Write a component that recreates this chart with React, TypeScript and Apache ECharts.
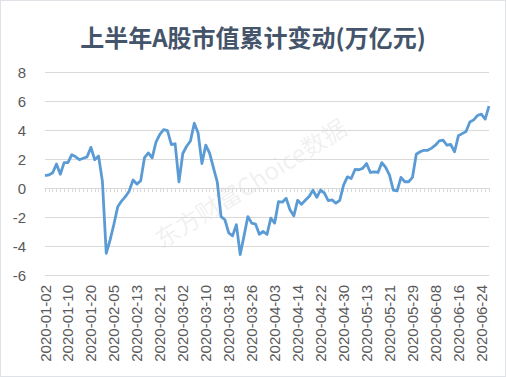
import React, { useEffect, useRef } from "react";
import * as echarts from "echarts";

const titleText = "上半年A股市值累计变动(万亿元)";
const watermark = "东方财富Choice数据";

const dates: string[] = [
  "2020-01-02","2020-01-03","2020-01-06","2020-01-07","2020-01-08","2020-01-09","2020-01-10","2020-01-13","2020-01-14","2020-01-15","2020-01-16","2020-01-17","2020-01-20","2020-01-21","2020-01-22","2020-01-23",
  "2020-02-03","2020-02-04","2020-02-05","2020-02-06","2020-02-07","2020-02-10","2020-02-11","2020-02-12","2020-02-13","2020-02-14","2020-02-17","2020-02-18","2020-02-19","2020-02-20","2020-02-21","2020-02-24","2020-02-25","2020-02-26","2020-02-27","2020-02-28",
  "2020-03-02","2020-03-03","2020-03-04","2020-03-05","2020-03-06","2020-03-09","2020-03-10","2020-03-11","2020-03-12","2020-03-13","2020-03-16","2020-03-17","2020-03-18","2020-03-19","2020-03-20","2020-03-23","2020-03-24","2020-03-25","2020-03-26","2020-03-27","2020-03-30","2020-03-31",
  "2020-04-01","2020-04-02","2020-04-03","2020-04-07","2020-04-08","2020-04-09","2020-04-10","2020-04-13","2020-04-14","2020-04-15","2020-04-16","2020-04-17","2020-04-20","2020-04-21","2020-04-22","2020-04-23","2020-04-24","2020-04-27","2020-04-28","2020-04-29","2020-04-30",
  "2020-05-06","2020-05-07","2020-05-08","2020-05-11","2020-05-12","2020-05-13","2020-05-14","2020-05-15","2020-05-18","2020-05-19","2020-05-20","2020-05-21","2020-05-22","2020-05-25","2020-05-26","2020-05-27","2020-05-28","2020-05-29",
  "2020-06-01","2020-06-02","2020-06-03","2020-06-04","2020-06-05","2020-06-08","2020-06-09","2020-06-10","2020-06-11","2020-06-12","2020-06-15","2020-06-16","2020-06-17","2020-06-18","2020-06-19","2020-06-22","2020-06-23","2020-06-24","2020-06-29","2020-06-30"
];

const janValues: number[] = [0.85, 0.9, 1.05, 1.65, 0.95, 1.75, 1.75, 2.3, 2.15, 1.95, 2.05, 2.15, 2.8, 1.95, 2.2, 0.45];
const febValues: number[] = [-4.5, -3.6, -2.5, -1.3, -0.9, -0.6, -0.2, 0.55, 0.27, 0.5, 2.1, 2.42, 2.08, 3.17, 3.7, 4.02, 3.95, 3.0, 3.05, 0.43];
const marValues: number[] = [2.38, 2.88, 3.24, 4.47, 3.79, 1.69, 2.95, 2.4, 1.4, 0.43, -1.97, -2.19, -3.1, -3.3, -2.53, -4.59, -3.3, -1.97, -2.42, -2.49, -3.19, -3.0];
const aprValues: number[] = [-3.2, -2.08, -2.42, -0.94, -0.98, -0.71, -1.5, -1.92, -0.85, -1.13, -0.85, -0.58, -0.15, -0.64, -0.14, -0.35, -0.87, -0.82, -1.05, -0.85, 0.2];
const mayValues: number[] = [0.77, 0.66, 1.28, 1.26, 1.35, 1.69, 1.07, 1.12, 1.07, 1.75, 1.42, 0.89, -0.14, -0.2, 0.73, 0.43, 0.43, 0.73];
const junValues: number[] = [2.33, 2.5, 2.6, 2.6, 2.75, 2.95, 3.25, 3.3, 2.95, 3.0, 2.5, 3.6, 3.75, 3.9, 4.55, 4.7, 5.0, 5.1, 4.75, 5.65];

const values: number[] = [...janValues, ...febValues, ...marValues, ...aprValues, ...mayValues, ...junValues];

const yMin = -6;
const yMax = 8;
const yInterval = 2;

export default function App() {
  const ref = useRef<HTMLDivElement>(null);
  useEffect(() => {
    if (!ref.current) return;
    const chart = echarts.init(ref.current, undefined, { renderer: "svg" });
    const labelFont = "'Liberation Sans', Arial, sans-serif";
    chart.setOption({
      animation: false,
      backgroundColor: "#ffffff",
      title: {
        text: titleText,
        left: "center",
        top: 18,
        textStyle: {
          fontSize: 24,
          fontWeight: "bold",
          color: "#44546a",
          fontFamily: "'Noto Sans CJK SC', sans-serif",
        },
      },
      graphic: [
        {
          type: "text",
          x: 249,
          y: 181,
          rotation: 0.555,
          silent: true,
          z: 0,
          style: {
            text: watermark,
            fontSize: 24,
            fontFamily: "'Noto Sans CJK SC', sans-serif",
            fill: "rgba(160,160,160,0.16)",
            textAlign: "center",
            textVerticalAlign: "middle",
          },
        },
      ],
      grid: { left: 44, right: 16, top: 71, bottom: 101, containLabel: false },
      xAxis: [
        {
          type: "category",
          data: dates,
          boundaryGap: false,
          position: "bottom",
          axisLine: { show: false, onZero: false },
          axisTick: { show: false },
          splitLine: { show: false },
          axisLabel: {
            interval: 5,
            rotate: 90,
            margin: 10,
            fontSize: 15,
            color: "#595959",
            fontFamily: labelFont,
          },
        },
        {
          type: "category",
          data: dates,
          boundaryGap: false,
          position: "top",
          axisLine: { show: true, onZero: true, lineStyle: { color: "#d9d9d9", width: 1 } },
          axisTick: { show: true, inside: true, interval: 0, length: 4, lineStyle: { color: "#d9d9d9" } },
          axisLabel: { show: false },
          splitLine: { show: false },
        },
      ],
      yAxis: {
        type: "value",
        min: yMin,
        max: yMax,
        interval: yInterval,
        axisLine: { show: false },
        axisTick: { show: false },
        splitLine: { lineStyle: { color: "#d9d9d9", width: 1 } },
        axisLabel: {
          margin: 19,
          fontSize: 15,
          color: "#595959",
          fontFamily: labelFont,
        },
      },
      series: [
        {
          type: "line",
          data: values,
          xAxisIndex: 0,
          showSymbol: false,
          symbol: "none",
          lineStyle: { color: "#5b9bd5", width: 2.8, join: "round" },
          z: 3,
        },
      ],
    });
    return () => chart.dispose();
  }, []);
  return (
    <div
      ref={ref}
      style={{
        position: "fixed",
        left: 0,
        top: 0,
        width: 506,
        height: 377,
        boxSizing: "border-box",
        border: "1px solid #dfe3e8",
        background: "#fff",
      }}
    />
  );
}
